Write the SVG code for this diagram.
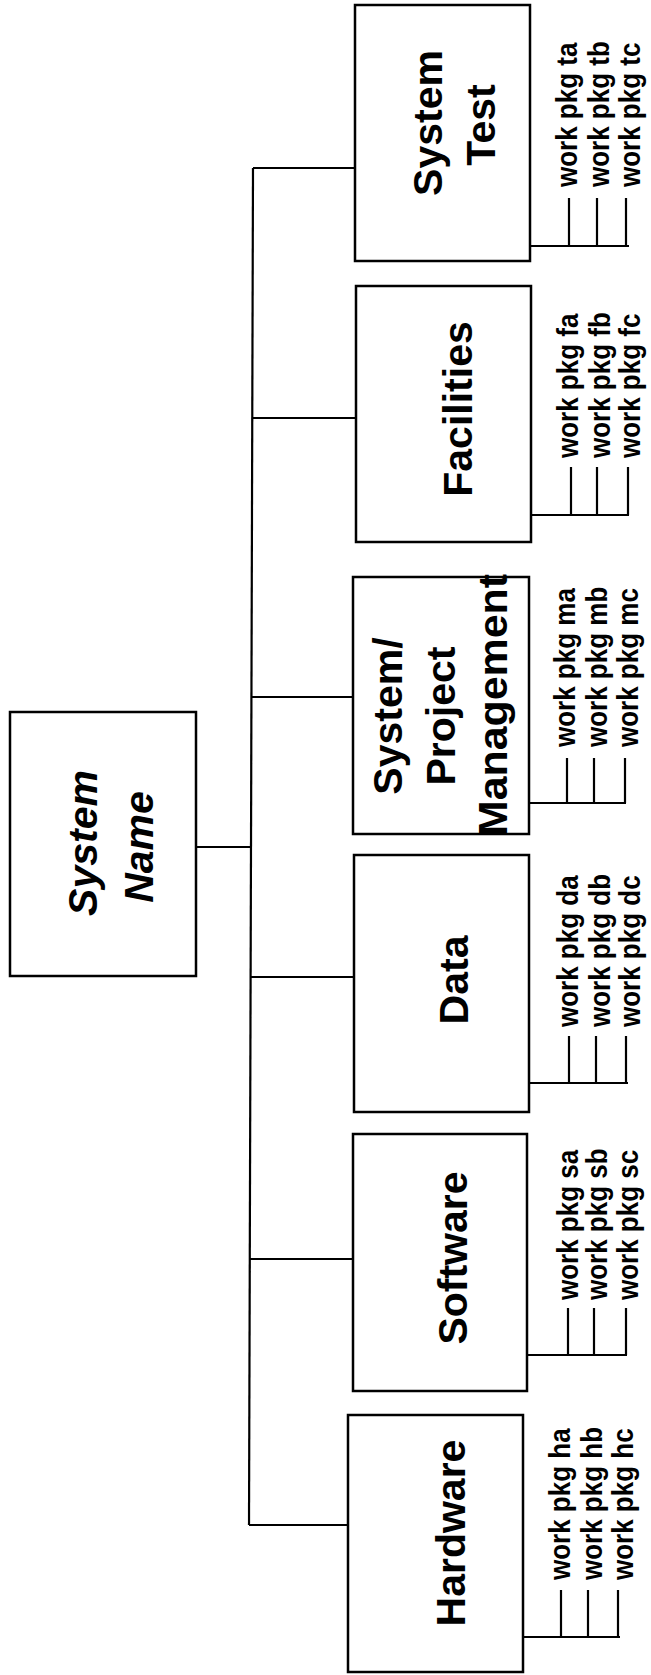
<svg xmlns="http://www.w3.org/2000/svg" width="651" height="1675" viewBox="0 0 651 1675">
<style>
.box{fill:#fff;stroke:#000;stroke-width:2.5}
.ln{fill:none;stroke:#000;stroke-width:2.2}
.lbl{font-family:"Liberation Sans",Arial,sans-serif;font-weight:bold;font-size:41px;text-anchor:middle;fill:#000}
.it{font-style:italic}
.wp{font-family:"Liberation Sans",Arial,sans-serif;font-weight:bold;font-size:26px;fill:#000}
</style>
<rect width="651" height="1675" fill="#fff"/>
<g id="connectors" class="ln">
<polyline points="253,168 249,1525"/>
<line x1="253" y1="168" x2="355" y2="168"/>
<line x1="252" y1="418" x2="356" y2="418"/>
<line x1="251" y1="697" x2="353" y2="697"/>
<line x1="251" y1="977" x2="354" y2="977"/>
<line x1="250" y1="1259" x2="353" y2="1259"/>
<line x1="249" y1="1525" x2="348" y2="1525"/>
<line x1="196" y1="847" x2="252" y2="847"/>
</g>
<g id="system-name">
<rect class="box" x="10" y="712" width="186" height="264"/>
<text class="lbl it" transform="translate(97,843) rotate(-90)">System</text>
<text class="lbl it" transform="translate(153,847) rotate(-90)">Name</text>
</g>
<g id="system-test">
<rect class="box" x="355" y="5" width="175" height="256"/>
<text class="lbl" transform="translate(442,123) rotate(-90)">System</text>
<text class="lbl" transform="translate(495,125) rotate(-90)">Test</text>
<path class="ln" d="M530,246H629M569,198V246M597,198V246M626,198V246"/>
<text class="wp" transform="translate(577,187) rotate(-90) scale(1,1.15)">work pkg ta</text>
<text class="wp" transform="translate(609,187) rotate(-90) scale(1,1.15)">work pkg tb</text>
<text class="wp" transform="translate(640,187) rotate(-90) scale(1,1.15)">work pkg tc</text>
</g>
<g id="facilities">
<rect class="box" x="356" y="286" width="175" height="256"/>
<text class="lbl" transform="translate(472,409) rotate(-90)">Facilities</text>
<path class="ln" d="M531,515H629M571,467V515M597,467V515M628,467V515"/>
<text class="wp" transform="translate(578,458) rotate(-90) scale(1,1.15)">work pkg fa</text>
<text class="wp" transform="translate(610,458) rotate(-90) scale(1,1.15)">work pkg fb</text>
<text class="wp" transform="translate(640,458) rotate(-90) scale(1,1.15)">work pkg fc</text>
</g>
<g id="system-project-management">
<rect class="box" x="353" y="577" width="176" height="257"/>
<text class="lbl" transform="translate(402,716) rotate(-90)">System/</text>
<text class="lbl" transform="translate(455,716) rotate(-90)">Project</text>
<text class="lbl" transform="translate(507,705) rotate(-90)" textLength="262" lengthAdjust="spacingAndGlyphs">Management</text>
<path class="ln" d="M529,803H626M567,758V803M594,758V803M625,758V803"/>
<text class="wp" transform="translate(575,747) rotate(-90) scale(1,1.15)">work pkg ma</text>
<text class="wp" transform="translate(607,747) rotate(-90) scale(1,1.15)">work pkg mb</text>
<text class="wp" transform="translate(638,747) rotate(-90) scale(1,1.15)">work pkg mc</text>
</g>
<g id="data">
<rect class="box" x="354" y="855" width="175" height="257"/>
<text class="lbl" transform="translate(468,980) rotate(-90)">Data</text>
<path class="ln" d="M529,1083H628M569,1036V1083M596,1036V1083M626,1036V1083"/>
<text class="wp" transform="translate(578,1027) rotate(-90) scale(1,1.15)">work pkg da</text>
<text class="wp" transform="translate(610,1027) rotate(-90) scale(1,1.15)">work pkg db</text>
<text class="wp" transform="translate(640,1027) rotate(-90) scale(1,1.15)">work pkg dc</text>
</g>
<g id="software">
<rect class="box" x="353" y="1134" width="174" height="257"/>
<text class="lbl" transform="translate(467,1258) rotate(-90)">Software</text>
<path class="ln" d="M527,1355H627M568,1308V1355M594,1308V1355M626,1308V1355"/>
<text class="wp" transform="translate(578,1300) rotate(-90) scale(1,1.15)">work pkg sa</text>
<text class="wp" transform="translate(607,1300) rotate(-90) scale(1,1.15)">work pkg sb</text>
<text class="wp" transform="translate(638,1300) rotate(-90) scale(1,1.15)">work pkg sc</text>
</g>
<g id="hardware">
<rect class="box" x="348" y="1415" width="175" height="257"/>
<text class="lbl" transform="translate(465,1533) rotate(-90)">Hardware</text>
<path class="ln" d="M523,1637H620M561,1590V1637M588,1590V1637M618,1590V1637"/>
<text class="wp" transform="translate(570,1580) rotate(-90) scale(1,1.15)">work pkg ha</text>
<text class="wp" transform="translate(602,1580) rotate(-90) scale(1,1.15)">work pkg hb</text>
<text class="wp" transform="translate(633,1580) rotate(-90) scale(1,1.15)">work pkg hc</text>
</g>
</svg>
